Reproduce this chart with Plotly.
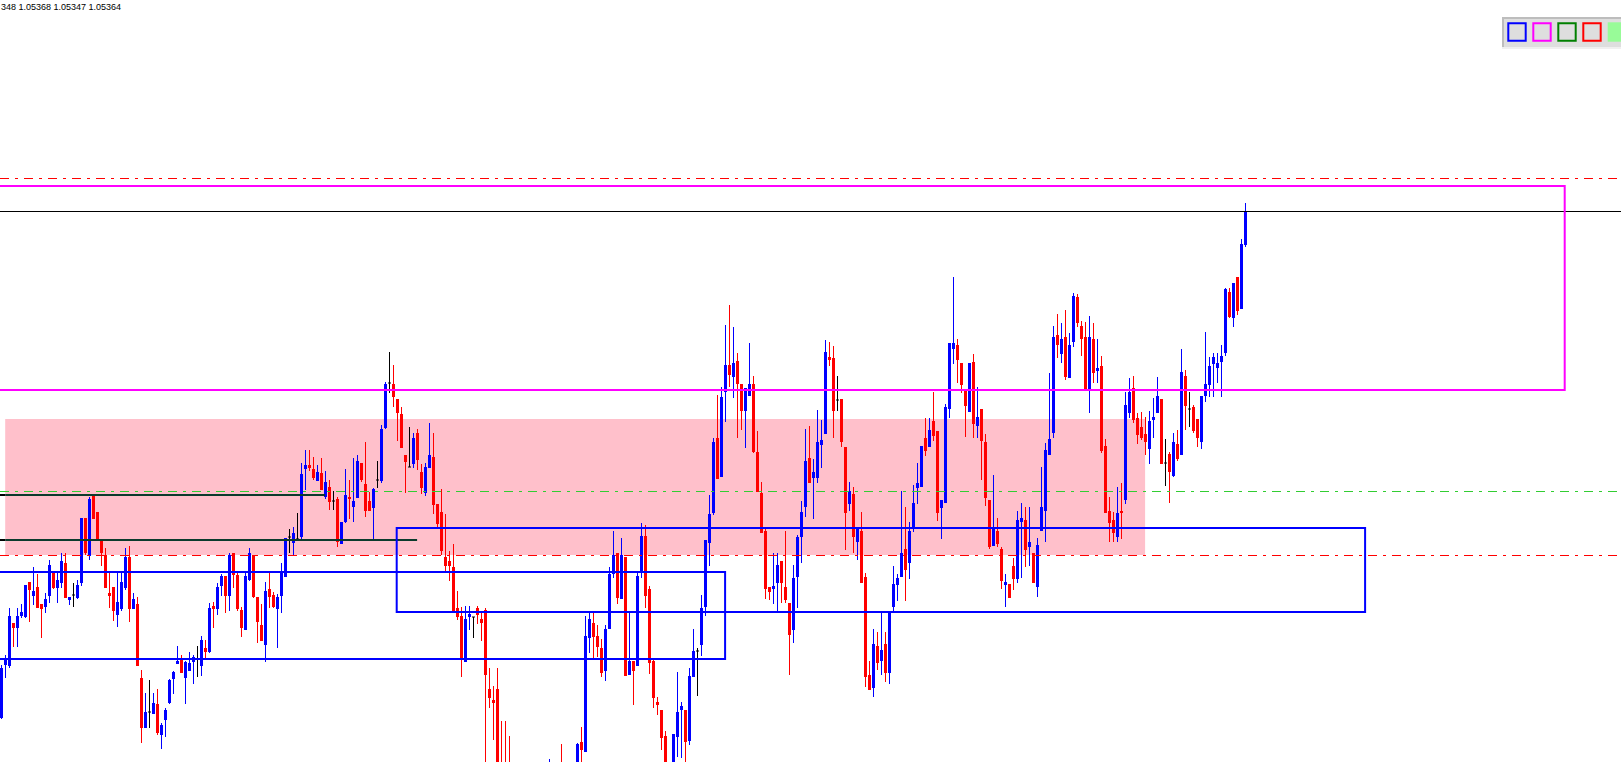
import plotly.graph_objects as go

# ---------------- data (prices in points, 1 point = 0.00001) ----------------
o_pts = [104858,104911,104910,104953,104948,104960,104959,104994,104980,104989,
104972,104969,104980,105004,104988,104993,105013,104976,104981,104978,
104993,105058,105020,105080,105064,105035,105021,104983,104989,104961,
104967,104988,105019,104967,104972,104898,104848,104864,104862,104872,
104841,104856,104873,104897,104912,104917,104898,104905,104914,104917,
104910,104928,104924,104970,104967,104990,105000,104980,105023,105001,
104966,104946,104996,105021,104979,104951,104931,104987,104981,104967,
104980,104999,105039,105033,105037,105039,105107,105111,105107,105095,
105103,105079,105089,105075,105077,105032,105054,105079,105069,105078,
105113,105092,105075,105068,105096,105095,105148,105193,105192,105177,
105162,105121,105109,105112,105143,105104,105083,105108,105119,105072,
105064,105019,105015,105009,104968,104960,104914,104959,104959,104968,
104957,104966,104887,104876,104887,104795,104765,104740,104700,104670,
104700,104680,104730,104710,104750,104730,104770,104750,104790,104760,
104790,104765,104790,104775,104795,104834,104824,104938,104953,104940,
104928,104905,104947,105002,105023,104977,105019,104901,104915,104910,
105003,105040,104987,104915,104874,104866,104840,104785,104795,104839,
104866,104866,104835,104899,104925,104931,104969,105033,105063,105138,
105099,105184,105211,105199,105215,105192,105165,105180,105192,105124,
105083,105045,104989,104987,104993,105015,104989,104973,104946,104999,
105039,105069,105118,105098,105098,105131,105142,105219,105218,105176,
105177,105129,105072,105082,105034,105045,104999,104901,104888,104930,
104915,104932,104903,104969,104991,104999,105027,105013,105047,105088,
105089,105138,105129,105155,105145,105068,105073,105167,105227,105231,
105213,105187,105164,105214,105150,105167,105134,105076,105030,105045,
105027,104991,104992,105010,104997,105054,105056,105029,105023,104989,
105045,105065,105121,105143,105241,105222,105239,105198,105234,105279,
105250,105239,105187,105237,105205,105210,105130,105065,105056,105039,
105065,105076,105163,105188,105158,105149,105142,105127,105156,105163,
105177,105113,105122,105100,105132,105121,105200,105167,105169,105157,
105134,105180,105191,105212,105208,105214,105223,105284,105258,105299,
105267,105331]

h_pts = [104911,104921,104968,104953,104968,104972,104991,104994,105009,105002,
104972,104983,105016,105004,105005,105023,105023,104979,104993,104996,
105058,105058,105079,105081,105064,105036,105028,105003,104989,105003,
105003,105028,105030,104983,104979,104906,104883,104896,104883,104887,
104853,104868,104897,104905,104930,104921,104915,104924,104921,104930,
104940,104936,104973,104974,104993,105002,105000,105023,105023,105004,
104969,105003,105028,105021,104979,104972,104994,105003,104984,104982,
105013,105038,105047,105049,105063,105113,105126,105126,105119,105111,
105118,105105,105096,105085,105079,105054,105107,105096,105118,105121,
105113,105134,105084,105088,105115,105151,105194,105224,105211,105177,
105169,105121,105149,105143,105147,105112,105113,105153,105143,105072,
105087,105062,105025,105032,104985,104969,104970,104970,104959,104970,
104963,104968,104908,104890,104908,104855,104855,104840,104720,104710,
104730,104750,104760,104770,104780,104790,104800,104817,104805,104800,
104832,104800,104805,104810,104833,104849,104960,104963,104964,104951,
104937,104951,105009,105045,105023,105038,105019,104964,104915,105003,
105053,105051,104990,104917,104879,104866,104845,104805,104842,104904,
104874,104866,104908,104947,104928,104981,105036,105081,105138,105181,
105189,105251,105271,105249,105223,105192,105188,105233,105200,105145,
105094,105047,104989,105023,105023,105015,105045,104973,105011,105041,
105075,105147,105150,105117,105166,105156,105236,105234,105230,105200,
105177,105129,105094,105089,105047,105064,105003,104915,104947,104944,
104963,104944,104963,105010,105002,105085,105069,105054,105091,105113,
105130,105158,105158,105184,105145,105076,105172,105233,105299,105237,
105213,105187,105213,105222,105189,105167,105142,105076,105101,105058,
105029,105002,104992,105018,105065,105073,105069,105069,105023,105038,
105109,105133,105203,105250,105262,105253,105266,105243,105283,105282,
105255,105254,105260,105253,105237,105220,105137,105079,105064,105089,
105093,105184,105198,105200,105163,105164,105159,105165,105178,105199,
105177,105137,105124,105143,105146,105227,105206,105184,105171,105157,
105180,105244,105219,105223,105223,105231,105288,105288,105293,105299,
105337,105373]

l_pts = [104857,104898,104908,104929,104929,104958,104958,104954,104971,104968,
104938,104963,104973,104987,104973,104988,104978,104971,104969,104977,
104990,105021,105016,105057,105035,105010,104988,104968,104955,104949,
104965,104986,104954,104967,104910,104833,104848,104848,104862,104841,
104827,104839,104872,104882,104912,104903,104872,104905,104892,104899,
104900,104917,104923,104948,104961,104980,104963,104965,104988,104965,
104939,104946,104995,104978,104933,104935,104914,104968,104968,104928,
104963,104999,105023,105021,105036,105036,105086,105105,105096,105095,
105086,105077,105066,105066,105029,105032,105053,105057,105054,105078,
105094,105059,105065,105037,105088,105093,105147,105183,105169,105135,
105128,105083,105109,105108,105106,105082,105080,105108,105062,105047,
105021,105004,104995,104964,104956,104899,104914,104946,104938,104952,
104935,104790,104868,104836,104770,104740,104720,104690,104660,104650,
104670,104670,104700,104700,104720,104720,104740,104740,104750,104740,
104750,104745,104760,104765,104785,104805,104824,104923,104917,104919,
104899,104895,104947,104998,104972,104977,104900,104901,104871,104910,
104998,104968,104902,104868,104861,104826,104770,104760,104780,104819,
104818,104810,104831,104899,104880,104920,104960,105010,105061,105097,
105099,105154,105189,105178,105138,105146,105128,105180,105123,105084,
105043,104977,104976,104972,104964,104973,104973,104901,104933,104968,
105013,105059,105093,105057,105093,105108,105142,105210,105138,105165,
105129,105026,105065,105023,105016,104993,104889,104886,104879,104906,
104901,104894,104892,104965,104975,104999,104975,104997,105044,105072,
105089,105120,105129,105135,105055,105037,105073,105158,105212,105193,
105183,105139,105164,105138,105138,105096,105070,105027,105030,105029,
104987,104969,104978,104986,104993,104998,105009,105010,104993,104979,
105045,105034,105121,105138,105218,105213,105196,105198,105229,105249,
105220,105185,105163,105193,105193,105123,105063,105034,105034,105034,
105037,105072,105158,105153,105132,105136,105121,105112,105138,105163,
105112,105090,105073,105099,105115,105121,105146,105149,105143,105129,
105127,105174,105179,105179,105193,105179,105220,105258,105249,105261,
105267,105329]

c_pts = [104908,104917,104960,104948,104960,104964,104991,104986,104985,104968,
104967,104977,105011,104988,104996,105015,104978,104979,104981,104991,
105058,105023,105077,105057,105036,105023,104988,104980,104965,104974,
104994,105019,104967,104977,104910,104848,104864,104864,104873,104843,
104851,104866,104896,104904,104915,104903,104914,104913,104919,104917,
104936,104924,104968,104967,104989,105000,104980,105021,105001,104967,
104948,105000,105023,104979,104954,104935,104985,104979,104969,104979,
105003,105038,105039,105043,105037,105102,105111,105108,105098,105104,
105086,105094,105074,105075,105034,105054,105081,105077,105075,105115,
105096,105065,105065,105087,105096,105147,105192,105193,105179,105163,
105128,105114,105109,105138,105116,105088,105109,105121,105071,105052,
105025,105010,105010,104964,104959,104918,104957,104962,104959,104961,
104953,104901,104878,104873,104790,104760,104735,104700,104670,104700,
104680,104730,104710,104750,104730,104770,104750,104790,104760,104785,
104765,104790,104775,104800,104832,104826,104940,104957,104939,104929,
104903,104947,105002,105021,104978,105021,104900,104915,104905,105000,
105040,104980,104913,104878,104871,104838,104790,104800,104842,104864,
104870,104834,104900,104925,104925,104968,105036,105062,105134,105097,
105179,105211,105201,105213,105192,105165,105188,105192,105124,105084,
105043,104987,104984,104990,105011,104993,104976,104941,104998,105039,
105064,105115,105093,105104,105134,105136,105224,105216,105165,105176,
105134,105063,105085,105039,105047,104993,104899,104886,104932,104913,
104926,104903,104963,104992,104998,105023,105006,105045,105073,105093,
105130,105125,105146,105140,105063,105076,105169,105233,105233,105216,
105191,105170,105213,105152,105159,105135,105078,105029,105047,105032,
104995,104994,104978,104997,105056,105058,105026,105034,104993,105031,
105069,105126,105137,105239,105231,105237,105199,105231,105280,105253,
105237,105185,105239,105203,105208,105125,105063,105053,105043,105063,
105063,105171,105184,105156,105141,105138,105134,105155,105159,105180,
105112,105113,105104,105134,105117,105204,105170,105167,105145,105138,
105180,105192,105210,105219,105213,105220,105287,105259,105293,105265,
105332,105364]

PT = 1e-5
opens = [v * PT for v in o_pts]
highs = [v * PT for v in h_pts]
lows = [v * PT for v in l_pts]
closes = [v * PT for v in c_pts]
idx = list(range(len(opens)))

header_text = "348 1.05368 1.05347 1.05364"

# horizontal levels and drawn objects (price levels)
level_red_top = 1.053975
level_bid = 1.053645
level_green = 1.050845
level_red_low = 1.050205
magenta_box = dict(x0=-5, x1=390.8, y0=1.05186, y1=1.05390)
pink_box = dict(x0=0.925, x1=285.9, y0=1.05021, y1=1.05157)
blue_box_1 = dict(x0=-5, x1=180.9, y0=1.04917, y1=1.05004)
blue_box_2 = dict(x0=98.8, x1=340.9, y0=1.04964, y1=1.05048)
dark_lines = [dict(y=1.05081, x1=80.9), dict(y=1.05036, x1=103.9)]
arrow_idx = [311, 233]
arrow_price = [1.05580, 1.04810]
arrow_symbol = ["triangle-down", "triangle-up"]

BULL = "#0000ff"
BEAR = "#ff0000"
DOJI = "#000000"

W, H = 1621, 762
y_range = [1.04814, 1.05576]
x_range = [-0.375, W / 4 - 0.375]

fig = go.Figure()

# bodies
bx, bbase, bh, bcol = [], [], [], []
doji_x, doji_y = [], []
wick = {BULL: ([], []), BEAR: ([], []), DOJI: ([], [])}
for i, o, hh, ll, c in zip(idx, opens, highs, lows, closes):
    if c > o:
        col = BULL
    elif c < o:
        col = BEAR
    else:
        col = DOJI
    wx, wy = wick[col]
    wx += [i, i, None]
    wy += [ll, hh, None]
    if col == DOJI:
        doji_x += [i - 0.375, i + 0.375, None]
        doji_y += [o, o, None]
    else:
        bx.append(i)
        bbase.append(min(o, c))
        bh.append(max(abs(c - o), 1.2 * PT))
        bcol.append(col)

for col, (wx, wy) in wick.items():
    fig.add_trace(go.Scatter(x=wx, y=wy, mode="lines",
                             line=dict(color=col, width=1),
                             hoverinfo="skip", showlegend=False))

fig.add_trace(go.Bar(x=bx, y=bh, base=bbase, width=0.75,
                     marker=dict(color=bcol, line=dict(width=0)),
                     hoverinfo="skip", showlegend=False))

fig.add_trace(go.Scatter(x=doji_x, y=doji_y, mode="lines",
                         line=dict(color=DOJI, width=1),
                         hoverinfo="skip", showlegend=False))

fig.add_trace(go.Scatter(x=arrow_idx, y=arrow_price, mode="markers",
                         marker=dict(symbol=arrow_symbol, size=7, color="black"),
                         hoverinfo="skip", showlegend=False))

shapes = []
# pink zone (background)
shapes.append(dict(type="rect", xref="x", yref="y", layer="below",
                   fillcolor="#ffc0cb", line=dict(width=0), **pink_box))
dash = "9px,6px,3px,6px"
for lv, col in [(level_red_top, "#ff0000"), (level_green, "#32cd32"),
                (level_red_low, "#ff0000")]:
    shapes.append(dict(type="line", xref="paper", yref="y", x0=0, x1=1,
                       y0=lv, y1=lv, layer="above",
                       line=dict(color=col, width=1, dash=dash)))
shapes.append(dict(type="line", xref="paper", yref="y", x0=0, x1=1,
                   y0=level_bid, y1=level_bid, layer="above",
                   line=dict(color="#000000", width=1)))
for dl in dark_lines:
    shapes.append(dict(type="line", xref="x", yref="y", x0=-5, x1=pink_box["x0"],
                       y0=dl["y"], y1=dl["y"], layer="above",
                       line=dict(color="#000000", width=2)))
    shapes.append(dict(type="line", xref="x", yref="y", x0=pink_box["x0"], x1=dl["x1"],
                       y0=dl["y"], y1=dl["y"], layer="above",
                       line=dict(color="#0b3a2c", width=2)))
shapes.append(dict(type="rect", xref="x", yref="y", layer="above",
                   line=dict(color="#ff00ff", width=2), **magenta_box))
for bb in (blue_box_1, blue_box_2):
    shapes.append(dict(type="rect", xref="x", yref="y", layer="above",
                       line=dict(color="#0000ff", width=2), **bb))

# toolbar in top-right corner (pixel layout)
def px(x):
    return x / W

def py(y):
    return 1 - y / H

shapes.append(dict(type="rect", xref="paper", yref="paper", layer="above",
                   x0=px(1502), x1=px(1625), y0=py(47), y1=py(17),
                   fillcolor="#dedede", line=dict(width=0)))
shapes.append(dict(type="rect", xref="paper", yref="paper", layer="above",
                   x0=px(1502), x1=px(1625), y0=py(49), y1=py(47),
                   fillcolor="#f0f0f0", line=dict(width=0)))
shapes.append(dict(type="rect", xref="paper", yref="paper", layer="above",
                   x0=px(1502), x1=px(1504), y0=py(47), y1=py(17),
                   fillcolor="#bdbdbd", line=dict(width=0)))
shapes.append(dict(type="rect", xref="paper", yref="paper", layer="above",
                   x0=px(1502), x1=px(1625), y0=py(19), y1=py(17),
                   fillcolor="#bdbdbd", line=dict(width=0)))
tool_colors = ["#0000ff", "#ff00ff", "#008000", "#ff0000"]
for k, col in enumerate(tool_colors):
    x0 = 1508.3 + 25 * k
    shapes.append(dict(type="rect", xref="paper", yref="paper", layer="above",
                       x0=px(x0), x1=px(x0 + 17.4), y0=py(40.7), y1=py(23.3),
                       fillcolor="rgba(0,0,0,0)", line=dict(color=col, width=2)))
shapes.append(dict(type="rect", xref="paper", yref="paper", layer="above",
                   x0=px(1607.7), x1=px(1630), y0=py(41.7), y1=py(22.3),
                   fillcolor="#98fb98", line=dict(width=0)))

fig.update_layout(
    width=W, height=H,
    margin=dict(l=0, r=0, t=0, b=0, pad=0),
    paper_bgcolor="white", plot_bgcolor="white",
    showlegend=False, barmode="overlay", bargap=0,
    xaxis=dict(range=x_range, visible=False, fixedrange=True),
    yaxis=dict(range=y_range, visible=False, fixedrange=True),
    shapes=shapes,
    annotations=[dict(text=header_text, xref="paper", yref="paper",
                      x=0, y=1, xanchor="left", yanchor="top", xshift=-1,
                      showarrow=False,
                      font=dict(family="Liberation Sans", size=9, color="black"))],
)

fig.write_html("out.html", config={"displayModeBar": False},
               post_script="document.body.style.margin='0';document.body.style.overflow='hidden';")
